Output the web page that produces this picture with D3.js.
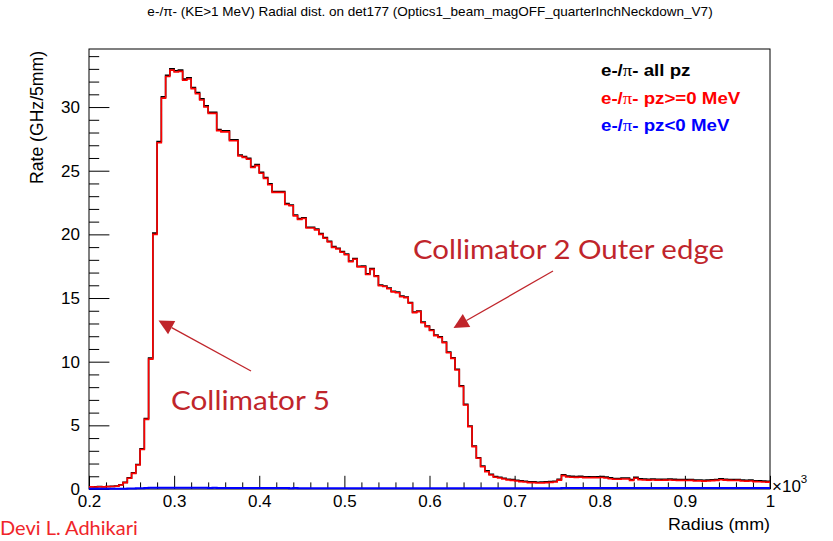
<!DOCTYPE html>
<html>
<head>
<meta charset="utf-8">
<script src="https://cdn.jsdelivr.net/npm/d3@7"></script>
<style>
  html, body { margin: 0; padding: 0; background: #fff; }
  svg { display: block; }
</style>
</head>
<body>
<svg id="chart" width="833" height="541"></svg>
<script>
// Radial distribution of e-/pi- (KE > 1 MeV) on det177, 5 mm bins from 200 to 1000 mm.
const binStart = 200;   // mm
const binWidth = 5;     // mm

// Rate (GHz/5mm), all pz
const rateAllPz = [
  0.18, 0.17, 0.19, 0.18, 0.20, 0.21, 0.23, 0.33, 0.52, 0.87,
  1.27, 1.93, 3.16, 5.54, 10.29, 20.10, 27.30, 30.80, 32.50, 33.00,
  32.85, 32.90, 32.19, 32.30, 31.54, 31.14, 30.64, 30.09, 29.58, 29.59,
  28.23, 28.13, 28.13, 27.43, 27.43, 26.23, 26.12, 25.98, 25.32, 25.48,
  24.87, 24.47, 23.97, 23.37, 23.37, 23.37, 22.42, 22.31, 21.52, 21.24,
  21.31, 20.56, 20.56, 20.41, 20.06, 19.76, 19.46, 19.04, 18.91, 18.66,
  18.46, 17.91, 18.11, 17.50, 17.51, 16.90, 17.31, 16.75, 16.02, 15.95,
  15.78, 15.53, 15.47, 15.15, 15.08, 14.65, 13.90, 13.98, 13.11, 12.80,
  12.50, 12.10, 11.95, 11.55, 10.75, 10.31, 9.40, 8.10, 6.65, 4.95,
  3.38, 2.46, 1.81, 1.42, 1.16, 0.98, 0.92, 0.85, 0.77, 0.74,
  0.69, 0.64, 0.61, 0.56, 0.56, 0.53, 0.54, 0.56, 0.58, 0.61,
  0.76, 1.12, 1.01, 0.99, 0.98, 0.99, 0.96, 0.95, 0.96, 0.95,
  0.97, 0.93, 0.88, 0.83, 0.83, 0.86, 0.86, 0.75, 0.91, 0.80,
  0.78, 0.77, 0.78, 0.77, 0.76, 0.77, 0.78, 0.76, 0.75, 0.75,
  0.74, 0.75, 0.70, 0.71, 0.69, 0.70, 0.73, 0.75, 0.80, 0.77,
  0.75, 0.74, 0.75, 0.70, 0.69, 0.70, 0.65, 0.64, 0.62, 0.61
];

// Rate (GHz/5mm), pz >= 0
const ratePzPos = [
  0.17, 0.16, 0.18, 0.17, 0.19, 0.20, 0.22, 0.31, 0.50, 0.84,
  1.23, 1.88, 3.10, 5.47, 10.20, 20.00, 27.20, 30.70, 32.40, 32.90,
  32.75, 32.80, 32.10, 32.20, 31.45, 31.05, 30.55, 30.00, 29.50, 29.50,
  28.15, 28.05, 28.05, 27.35, 27.35, 26.15, 26.05, 25.90, 25.25, 25.40,
  24.80, 24.40, 23.90, 23.30, 23.30, 23.30, 22.35, 22.25, 21.45, 21.18,
  21.25, 20.50, 20.50, 20.35, 20.00, 19.70, 19.40, 18.98, 18.85, 18.60,
  18.40, 17.85, 18.05, 17.45, 17.45, 16.85, 17.25, 16.70, 15.97, 15.90,
  15.73, 15.48, 15.42, 15.10, 15.03, 14.60, 13.85, 13.93, 13.06, 12.75,
  12.45, 12.05, 11.90, 11.50, 10.70, 10.26, 9.35, 8.05, 6.60, 4.90,
  3.33, 2.41, 1.75, 1.36, 1.10, 0.92, 0.86, 0.79, 0.71, 0.68,
  0.63, 0.58, 0.55, 0.50, 0.50, 0.47, 0.48, 0.50, 0.52, 0.55,
  0.70, 1.05, 0.94, 0.92, 0.91, 0.92, 0.89, 0.88, 0.89, 0.88,
  0.90, 0.86, 0.81, 0.76, 0.76, 0.79, 0.79, 0.68, 0.84, 0.73,
  0.71, 0.70, 0.71, 0.70, 0.69, 0.70, 0.71, 0.69, 0.68, 0.68,
  0.67, 0.68, 0.63, 0.64, 0.62, 0.63, 0.66, 0.68, 0.73, 0.70,
  0.68, 0.67, 0.68, 0.63, 0.62, 0.63, 0.58, 0.57, 0.55, 0.54
];

// Rate (GHz/5mm), pz < 0
const ratePzNeg = [
  0.01, 0.01, 0.01, 0.01, 0.01, 0.01, 0.01, 0.02, 0.02, 0.03,
  0.04, 0.05, 0.06, 0.07, 0.09, 0.10, 0.10, 0.10, 0.10, 0.10,
  0.10, 0.10, 0.09, 0.10, 0.09, 0.09, 0.09, 0.09, 0.08, 0.09,
  0.08, 0.08, 0.08, 0.08, 0.08, 0.08, 0.07, 0.08, 0.07, 0.08,
  0.07, 0.07, 0.07, 0.07, 0.07, 0.07, 0.07, 0.06, 0.07, 0.06,
  0.06, 0.06, 0.06, 0.06, 0.06, 0.06, 0.06, 0.06, 0.06, 0.06,
  0.06, 0.06, 0.06, 0.05, 0.06, 0.05, 0.06, 0.05, 0.05, 0.05,
  0.05, 0.05, 0.05, 0.05, 0.05, 0.05, 0.05, 0.05, 0.05, 0.05,
  0.05, 0.05, 0.05, 0.05, 0.05, 0.05, 0.05, 0.05, 0.05, 0.05,
  0.05, 0.05, 0.06, 0.06, 0.06, 0.06, 0.06, 0.06, 0.06, 0.06,
  0.06, 0.06, 0.06, 0.06, 0.06, 0.06, 0.06, 0.06, 0.06, 0.06,
  0.06, 0.07, 0.07, 0.07, 0.07, 0.07, 0.07, 0.07, 0.07, 0.07,
  0.07, 0.07, 0.07, 0.07, 0.07, 0.07, 0.07, 0.07, 0.07, 0.07,
  0.07, 0.07, 0.07, 0.07, 0.07, 0.07, 0.07, 0.07, 0.07, 0.07,
  0.07, 0.07, 0.07, 0.07, 0.07, 0.07, 0.07, 0.07, 0.07, 0.07,
  0.07, 0.07, 0.07, 0.07, 0.07, 0.07, 0.07, 0.07, 0.07, 0.07
];

const xMajorTicks = [200, 300, 400, 500, 600, 700, 800, 900, 1000];
const yMajorTicks = [0, 5, 10, 15, 20, 25, 30];

const legendEntries = [
  { label: "all pz",      color: "#000000" },
  { label: "pz>=0 MeV",   color: "#ff0000" },
  { label: "pz<0 MeV",    color: "#0000ff" }
];

const titleText = "e-/\u03c0- (KE>1 MeV) Radial dist. on det177 (Optics1_beam_magOFF_quarterInchNeckdown_V7)";

// ---------- layout ----------
const svg = d3.select("#chart");
const frame = { left: 89, right: 770, top: 49, bottom: 489 };

const x = d3.scaleLinear().domain([200, 1000]).range([frame.left, frame.right]);
const y = d3.scaleLinear().domain([0, 34.56]).range([frame.bottom, frame.top]);

const AXIS_FONT = "'Liberation Sans', Arial, Helvetica, sans-serif";
const AXIS_SIZE = 17;

// text placed at (px, py) and widened horizontally by sx
function wideText(px, py, sx) {
  return svg.append("text")
    .attr("transform", `translate(${px},${py}) scale(${sx},1)`);
}

// title
wideText(430, 16, 1.04)
  .attr("text-anchor", "middle")
  .attr("font-family", AXIS_FONT)
  .attr("font-size", 13)
  .attr("fill", "#000")
  .text(titleText);

// ---------- axes ----------
const fmtX = d => String(+(d / 1000).toFixed(1));

const xMinor = d3.range(200, 1000.1, 20).filter(v => v % 100 !== 0);
const yMinor = d3.range(0, 34.5, 1).filter(v => v % 5 !== 0);

// x axis: ticks pointing up into the frame
svg.append("g")
  .attr("transform", `translate(0,${frame.bottom})`)
  .call(d3.axisBottom(x).tickValues(xMinor).tickSize(-6.6).tickFormat(""))
  .call(g => g.select(".domain").remove())
  .call(g => g.selectAll("line").attr("stroke", "#000"));

svg.append("g")
  .attr("transform", `translate(0,${frame.bottom})`)
  .call(d3.axisBottom(x).tickValues(xMajorTicks).tickSize(-13.2).tickPadding(6).tickFormat(fmtX))
  .call(g => g.select(".domain").remove())
  .call(g => g.selectAll("line").attr("stroke", "#000"))
  .call(g => g.selectAll("text")
    .attr("font-family", AXIS_FONT).attr("font-size", AXIS_SIZE).attr("fill", "#000"));

// y axis: ticks pointing right into the frame
svg.append("g")
  .attr("transform", `translate(${frame.left},0)`)
  .call(d3.axisLeft(y).tickValues(yMinor).tickSize(-10.2).tickFormat(""))
  .call(g => g.select(".domain").remove())
  .call(g => g.selectAll("line").attr("stroke", "#000"));

svg.append("g")
  .attr("transform", `translate(${frame.left},0)`)
  .call(d3.axisLeft(y).tickValues(yMajorTicks).tickSize(-20.4).tickPadding(9).tickFormat(d3.format("d")))
  .call(g => g.select(".domain").remove())
  .call(g => g.selectAll("line").attr("stroke", "#000"))
  .call(g => g.selectAll("text")
    .attr("font-family", AXIS_FONT).attr("font-size", AXIS_SIZE).attr("fill", "#000"));

// frame
svg.append("rect")
  .attr("x", frame.left).attr("y", frame.top)
  .attr("width", frame.right - frame.left)
  .attr("height", frame.bottom - frame.top)
  .attr("fill", "none")
  .attr("stroke", "#000")
  .attr("stroke-width", 1);

// x10^3 exponent
const expo = svg.append("text")
  .attr("x", 772).attr("y", 492)
  .attr("font-family", AXIS_FONT)
  .attr("font-size", 17)
  .attr("fill", "#000");
expo.append("tspan").text("\u00d710");
expo.append("tspan").attr("font-size", 11.5).attr("dy", -9).text("3");

// axis titles
wideText(frame.right, 530, 1.05)
  .attr("text-anchor", "end")
  .attr("font-family", AXIS_FONT)
  .attr("font-size", AXIS_SIZE)
  .attr("fill", "#000")
  .text("Radius (mm)");

svg.append("text")
  .attr("transform", `translate(43,${frame.top + 2}) rotate(-90)`)
  .attr("text-anchor", "end")
  .attr("font-family", AXIS_FONT)
  .attr("font-size", 17.6)
  .attr("fill", "#000")
  .text("Rate (GHz/5mm)");

// ---------- histograms ----------
svg.append("defs").append("clipPath").attr("id", "plotClip")
  .append("rect")
  .attr("x", frame.left).attr("y", frame.top - 1)
  .attr("width", frame.right - frame.left)
  .attr("height", frame.bottom - frame.top + 2);

function stepPoints(values) {
  const pts = [];
  values.forEach((v, i) => {
    const lo = binStart + i * binWidth;
    pts.push([lo, v], [lo + binWidth, v]);
  });
  return pts;
}

const stepLine = d3.line().x(d => x(d[0])).y(d => y(d[1]));

const histLayer = svg.append("g").attr("clip-path", "url(#plotClip)");

[
  { values: rateAllPz, color: "#000000", width: 1.6 },
  { values: ratePzPos, color: "#ff0000", width: 1.6 },
  { values: ratePzNeg, color: "#0000ff", width: 2.0 }
].forEach(h => {
  histLayer.append("path")
    .attr("d", stepLine(stepPoints(h.values)))
    .attr("fill", "none")
    .attr("stroke", h.color)
    .attr("stroke-width", h.width)
    .attr("stroke-linejoin", "miter");
});

// ---------- legend ----------
legendEntries.forEach((e, i) => {
  const t = wideText(601, 76 + i * 27.5, 1.1)
    .attr("font-family", AXIS_FONT)
    .attr("font-size", 17)
    .attr("font-weight", "bold")
    .attr("fill", e.color);
  t.append("tspan").text("e-/");
  t.append("tspan").attr("font-family", "'Liberation Serif', 'Times New Roman', serif")
    .attr("font-weight", "normal").text("\u03c0");
  t.append("tspan").text("- " + e.label);
});

// ---------- annotations ----------
const NOTE_COLOR = "#c0252b";
const NOTE_FONT = "Lato, 'Open Sans', sans-serif";

function arrow(x1, y1, x2, y2, headLen, headHalf) {
  const dx = x2 - x1, dy = y2 - y1;
  const L = Math.hypot(dx, dy);
  const ux = dx / L, uy = dy / L;
  const bx = x2 - ux * headLen, by = y2 - uy * headLen;
  svg.append("line")
    .attr("x1", x1).attr("y1", y1).attr("x2", bx).attr("y2", by)
    .attr("stroke", NOTE_COLOR).attr("stroke-width", 1.3);
  svg.append("path")
    .attr("d", `M${x2},${y2}L${bx - uy * headHalf},${by + ux * headHalf}L${bx + uy * headHalf},${by - ux * headHalf}Z`)
    .attr("fill", NOTE_COLOR);
}

arrow(251, 371, 158.5, 320.5, 15, 7.5);
arrow(553, 271, 453.5, 328, 15, 7.5);

wideText(413, 258.5, 1.09)
  .attr("font-family", NOTE_FONT)
  .attr("font-size", 27)
  .attr("fill", NOTE_COLOR)
  .text("Collimator 2 Outer edge");

wideText(171, 409.5, 1.1)
  .attr("font-family", NOTE_FONT)
  .attr("font-size", 27)
  .attr("fill", NOTE_COLOR)
  .text("Collimator 5");

svg.append("text")
  .attr("x", 0).attr("y", 535)
  .attr("font-family", NOTE_FONT)
  .attr("font-size", 20)
  .attr("fill", "#f0252a")
  .text("Devi L. Adhikari");
</script>
</body>
</html>
